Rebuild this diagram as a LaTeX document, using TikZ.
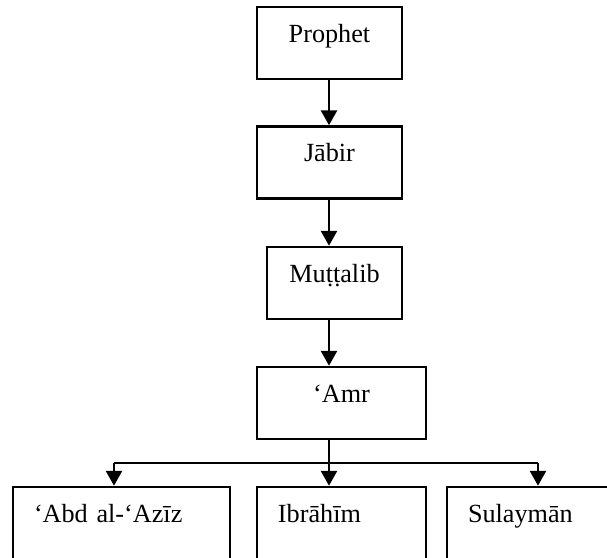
\documentclass[tikz,border=0pt]{standalone}
\usepackage{fontspec}
\setmainfont{Liberation Serif}
\usetikzlibrary{arrows.meta}
\tikzset{>={Triangle[length=7.5pt,width=8pt]},font=\fontsize{13.1}{15}\selectfont}
\tikzset{person/.style={draw,line width=1.25pt,inner xsep=0pt,inner ysep=0pt,
  text height=17.5pt,text depth=18.5pt},
  son/.style={person,align=left,inner xsep=10.5pt},
  link/.style={line width=1.4pt}}

\begin{document}
\begin{tikzpicture}[x=0.5pt,y=-0.5pt]
\useasboundingbox (0,0) rectangle (607,558);
\clip (0,0) rectangle (607,558);
\node[person,minimum width=72.5pt] (prophet) at (329.5,43) {Prophet};
\node[person,minimum width=72.5pt] (jabir) at (329.5,162.5) {Jābir};
\node[person,minimum width=67.5pt] (muttalib) at (334.5,283) {Muṭṭalib};
\node[person,minimum width=84.5pt] (amr) at (341.5,403) {‘Amr};
\node[son,text width=87.5pt] (abd) at (121.5,523) {‘Abd al-‘Azīz};
\node[son,text width=63.5pt] (ibrahim) at (341.5,523) {Ibrāhīm};
\node[son,text width=100pt] (sulayman) at (568,523) {Sulaymān};
\coordinate (spine) at (329,0);
\coordinate (fork) at (329,463);
\coordinate (forkL) at (114,463);
\coordinate (forkR) at (538,463);
\draw[link,->] (prophet.south -| spine) -- (jabir.north -| spine);
\draw[link,->] (jabir.south -| spine) -- (muttalib.north -| spine);
\draw[link,->] (muttalib.south -| spine) -- (amr.north -| spine);
\draw[link] (amr.south -| spine) -- (fork);
\draw[link] (forkL) -- (forkR);
\draw[link,->] (forkL) -- (abd.north -| forkL);
\draw[link,->] (fork) -- (ibrahim.north -| fork);
\draw[link,->] (forkR) -- (sulayman.north -| forkR);
\end{tikzpicture}
\end{document}
